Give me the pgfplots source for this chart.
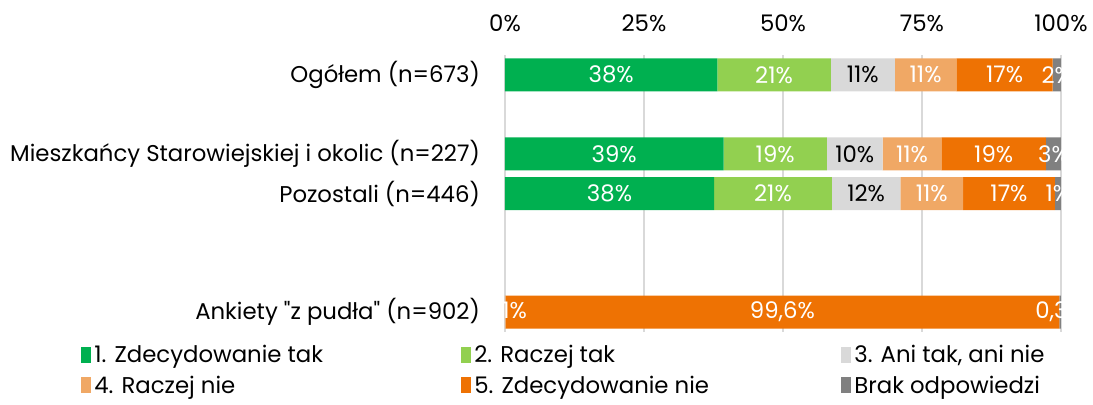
\documentclass[border=0pt]{standalone}
\usepackage{fontspec}
\setmainfont{Poppins}
\newfontfamily\qfont{Poppins}
\usepackage{pgfplots}
\pgfplotsset{compat=1.18}
\definecolor{c1}{HTML}{00B050}
\definecolor{c2}{HTML}{92D050}
\definecolor{c3}{HTML}{D9D9D9}
\definecolor{c4}{HTML}{F0A865}
\definecolor{c5}{HTML}{EE7203}
\definecolor{c6}{HTML}{808080}
\begin{document}
\begin{tikzpicture}
\useasboundingbox (-252.5pt,-36.5pt) rectangle (294pt,166pt);
\begin{axis}[
  xbar stacked,
  scale only axis,
  width=278pt, height=138.5pt,
  bar width=16.5pt,
  xmin=0, xmax=100,
  ymin=-0.5, ymax=6.5,
  y dir=reverse,
  axis x line*=top, axis y line*=left,
  axis line style={draw=none},
  xtick={0,25,50,75,100},
  xticklabels={0\%,25\%,50\%,75\%,100\%},
  ytick={0,2,3,6},
  yticklabels={Ogółem (n=673),Mieszkańcy Starowiejskiej i okolic (n=227),Pozostali (n=446),Ankiety {\qfont"}z pudła{\qfont"} (n=902)},
  tick style={draw=none},
  xmajorgrids, grid style={color=black!15, line width=0.7pt},
  tick label style={font=\fontsize{11.4}{13}\selectfont},
  yticklabel style={xshift=-9pt},
  xticklabel style={yshift=8pt},
  point meta=explicit symbolic,
  nodes near coords,
  nodes near coords align={anchor=center},
  every node near coord/.append style={anchor=center, font=\fontsize{11.4}{13}\selectfont, text=white},
  legend columns=3,
  legend style={at={(0,0)}, anchor=north west, xshift=-215pt, yshift=-2.5pt, draw=none, fill=none,
    font=\fontsize{11.4}{13}\selectfont, nodes={inner xsep=1.5pt}, /tikz/row sep=1pt},
  legend cell align=left,
  legend image code/.code={\fill[#1] (0pt,-3.5pt) rectangle (5pt,4.5pt);},
]
\addplot[fill=c1, draw=none] coordinates {(38.2,0) [38\%] (39.3,2) [39\%] (37.6,3) [38\%] (0,6) []};
\addlegendentry{\makebox[182pt][l]{1. Zdecydowanie tak}}
\addplot[fill=c2, draw=none] coordinates {(20.4,0) [21\%] (18.6,2) [19\%] (21.2,3) [21\%] (0,6) []};
\addlegendentry{\makebox[182pt][l]{2. Raczej tak}}
\addplot[fill=c3, draw=none, every node near coord/.append style={text=black}] coordinates {(11.5,0) [11\%] (10.0,2) [10\%] (12.3,3) [12\%] (0,6) []};
\addlegendentry{3. Ani tak, ani nie}
\addplot[fill=c4, draw=none] coordinates {(11.1,0) [11\%] (10.6,2) [11\%] (11.3,3) [11\%] (0.1,6) [0,1\%]};
\addlegendentry{\makebox[182pt][l]{4. Raczej nie}}
\addplot[fill=c5, draw=none] coordinates {(17.3,0) [17\%] (18.8,2) [19\%] (16.5,3) [17\%] (99.6,6) [99,6\%]};
\addlegendentry{\makebox[182pt][l]{5. Zdecydowanie nie}}
\addplot[fill=c6, draw=none] coordinates {(1.5,0) [2\%] (2.7,2) [3\%] (1.1,3) [1\%] (0.3,6) [0,3\%]};
\addlegendentry{Brak odpowiedzi}
\end{axis}
\end{tikzpicture}
\end{document}
